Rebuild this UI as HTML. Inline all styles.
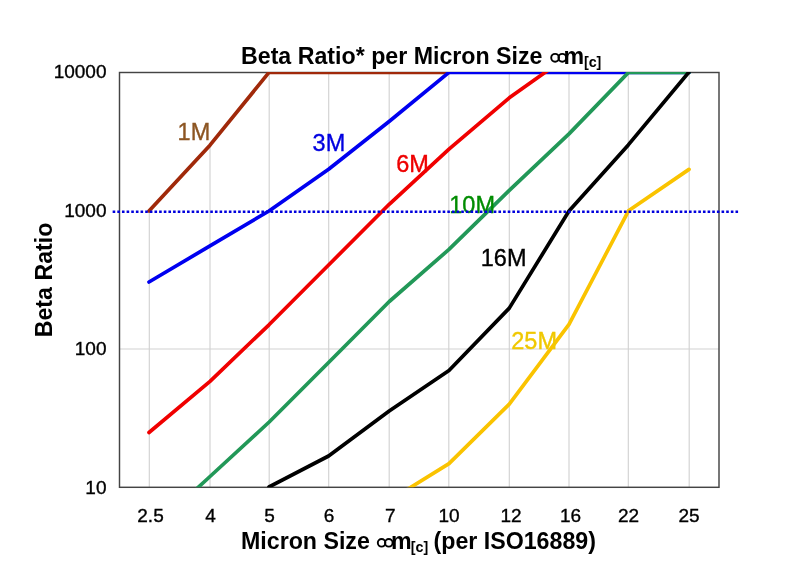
<!DOCTYPE html>
<html><head><meta charset="utf-8">
<style>
html,body{margin:0;padding:0;background:#fff;width:800px;height:572px;overflow:hidden}
svg{display:block;filter:blur(0.25px)}
text{font-family:"Liberation Sans",sans-serif}
</style></head>
<body>
<svg width="800" height="572" viewBox="0 0 800 572">
<defs><clipPath id="pc"><rect x="119.5" y="72" width="599.5" height="415.3"/></clipPath></defs>
<rect width="800" height="572" fill="#fff"/>
<!-- gridlines -->
<g stroke="#d2d2d2" stroke-width="1.15" fill="none">
<line x1="149.3" y1="72" x2="149.3" y2="487"/>
<line x1="210" y1="72" x2="210" y2="487"/>
<line x1="269.2" y1="72" x2="269.2" y2="487"/>
<line x1="328.7" y1="72" x2="328.7" y2="487"/>
<line x1="389.2" y1="72" x2="389.2" y2="487"/>
<line x1="448.8" y1="72" x2="448.8" y2="487"/>
<line x1="509.3" y1="72" x2="509.3" y2="487"/>
<line x1="569" y1="72" x2="569" y2="487"/>
<line x1="628.3" y1="72" x2="628.3" y2="487"/>
<line x1="689.2" y1="72" x2="689.2" y2="487"/>
<line x1="119" y1="349" x2="719" y2="349"/>
</g>
<polygon points="120,73 269,73 210,145.2 149,211 120,211" fill="#fff"/>
<!-- border -->
<rect x="119.5" y="72.5" width="599.5" height="414.8" fill="none" stroke="#444" stroke-width="1.45"/>
<!-- series -->
<g clip-path="url(#pc)" fill="none" stroke-width="3.7" stroke-linejoin="round" stroke-linecap="round">
<polyline stroke="#a0290a" points="149,211 210,145.2 269,72.4 449,72.4"/>
<polyline stroke="#0000f0" points="149,282 210,245.9 269,211 328.6,169.2 389.4,121.2 449,72.4 689,72.4"/>
<polyline stroke="#f00000" points="149,432.5 210,381.3 269,324.8 328.6,265 389.2,204.3 449,149.2 509.3,97.8 569,55.4"/>
<polyline stroke="#229858" points="149,532.6 210,476.5 269.2,422 328.6,362.5 389.3,301.5 449,249.4 509.3,190.4 569,133.9 628.5,72.4 689,72.4"/>
<polyline stroke="#000" points="269,487 328.6,456 389.2,411 449,370.5 509.3,308.1 569,211 628.3,144.9 689,72"/>
<polyline stroke="#fac300" points="389,500.8 449,463.6 509.3,404.1 569,324.4 628.5,210.8 689,169.4"/>
</g>
<!-- labels -->
<g font-size="23.5">
<text x="177.6" y="140" fill="#8c5522" stroke="#8c5522" stroke-width="0.35">1M</text>
<text x="312.6" y="150.5" fill="#0000e0" stroke="#0000e0" stroke-width="0.35">3M</text>
<text x="396.3" y="171.5" fill="#ee0000" stroke="#ee0000" stroke-width="0.35">6M</text>
<text x="449.3" y="213" fill="#008c00" stroke="#008c00" stroke-width="0.35">10M</text>
<text x="480.8" y="265.5" fill="#000" stroke="#000" stroke-width="0.35">16M</text>
<text x="511.3" y="349.2" fill="#f0c800" stroke="#f0c800" stroke-width="0.35">25M</text>
</g>
<!-- dotted 1000 line -->
<line x1="112.65" y1="211.7" x2="738.3" y2="211.7" stroke="#0000dd" stroke-width="2.6" stroke-dasharray="2.6 2.048"/>
<!-- y tick labels -->
<g font-size="19" fill="#000" stroke="#000" stroke-width="0.35" text-anchor="end">
<text x="106.5" y="78">10000</text>
<text x="106.5" y="217">1000</text>
<text x="106.5" y="493.7">10</text>
</g>
<text x="106.5" y="355" font-size="19" text-anchor="end" stroke="#000" stroke-width="0.35">100</text>
<!-- x tick labels -->
<g font-size="19" fill="#000" stroke="#000" stroke-width="0.35" text-anchor="middle">
<text x="150.5" y="522">2.5</text>
<text x="210.5" y="522">4</text>
<text x="269.5" y="522">5</text>
<text x="329" y="522">6</text>
<text x="390.3" y="522">7</text>
<text x="449" y="522">10</text>
<text x="511" y="522">12</text>
<text x="570.5" y="522">16</text>
<text x="628.5" y="522">22</text>
<text x="689" y="522">25</text>
</g>
<!-- title -->
<text x="241" y="63.5" font-size="23.2" font-weight="bold">Beta Ratio* per Micron Size</text>
<g fill="none" stroke="#000" stroke-width="1.9">
<circle cx="555.1" cy="57.8" r="3.9"/><circle cx="562.3" cy="57.8" r="3.9"/>
<circle cx="381.6" cy="542.8" r="3.8"/><circle cx="388.8" cy="542.8" r="3.8"/>
</g>
<text x="563.4" y="63.5" font-size="23.2" font-weight="bold">m</text>
<text x="583.9" y="67.2" font-size="14.3" font-weight="bold">[c]</text>
<!-- x axis title -->
<text x="241" y="549.3" font-size="23.2" font-weight="bold">Micron Size</text>
<text x="391" y="549.3" font-size="23.2" font-weight="bold">m</text>
<text x="410.7" y="551.8" font-size="14.3" font-weight="bold">[c]</text>
<text x="433.5" y="549.3" font-size="23.2" font-weight="bold">(per ISO16889)</text>
<!-- y axis title -->
<text transform="translate(52.2,337.3) rotate(-90)" font-size="23.2" font-weight="bold">Beta Ratio</text>
</svg>
</body></html>
